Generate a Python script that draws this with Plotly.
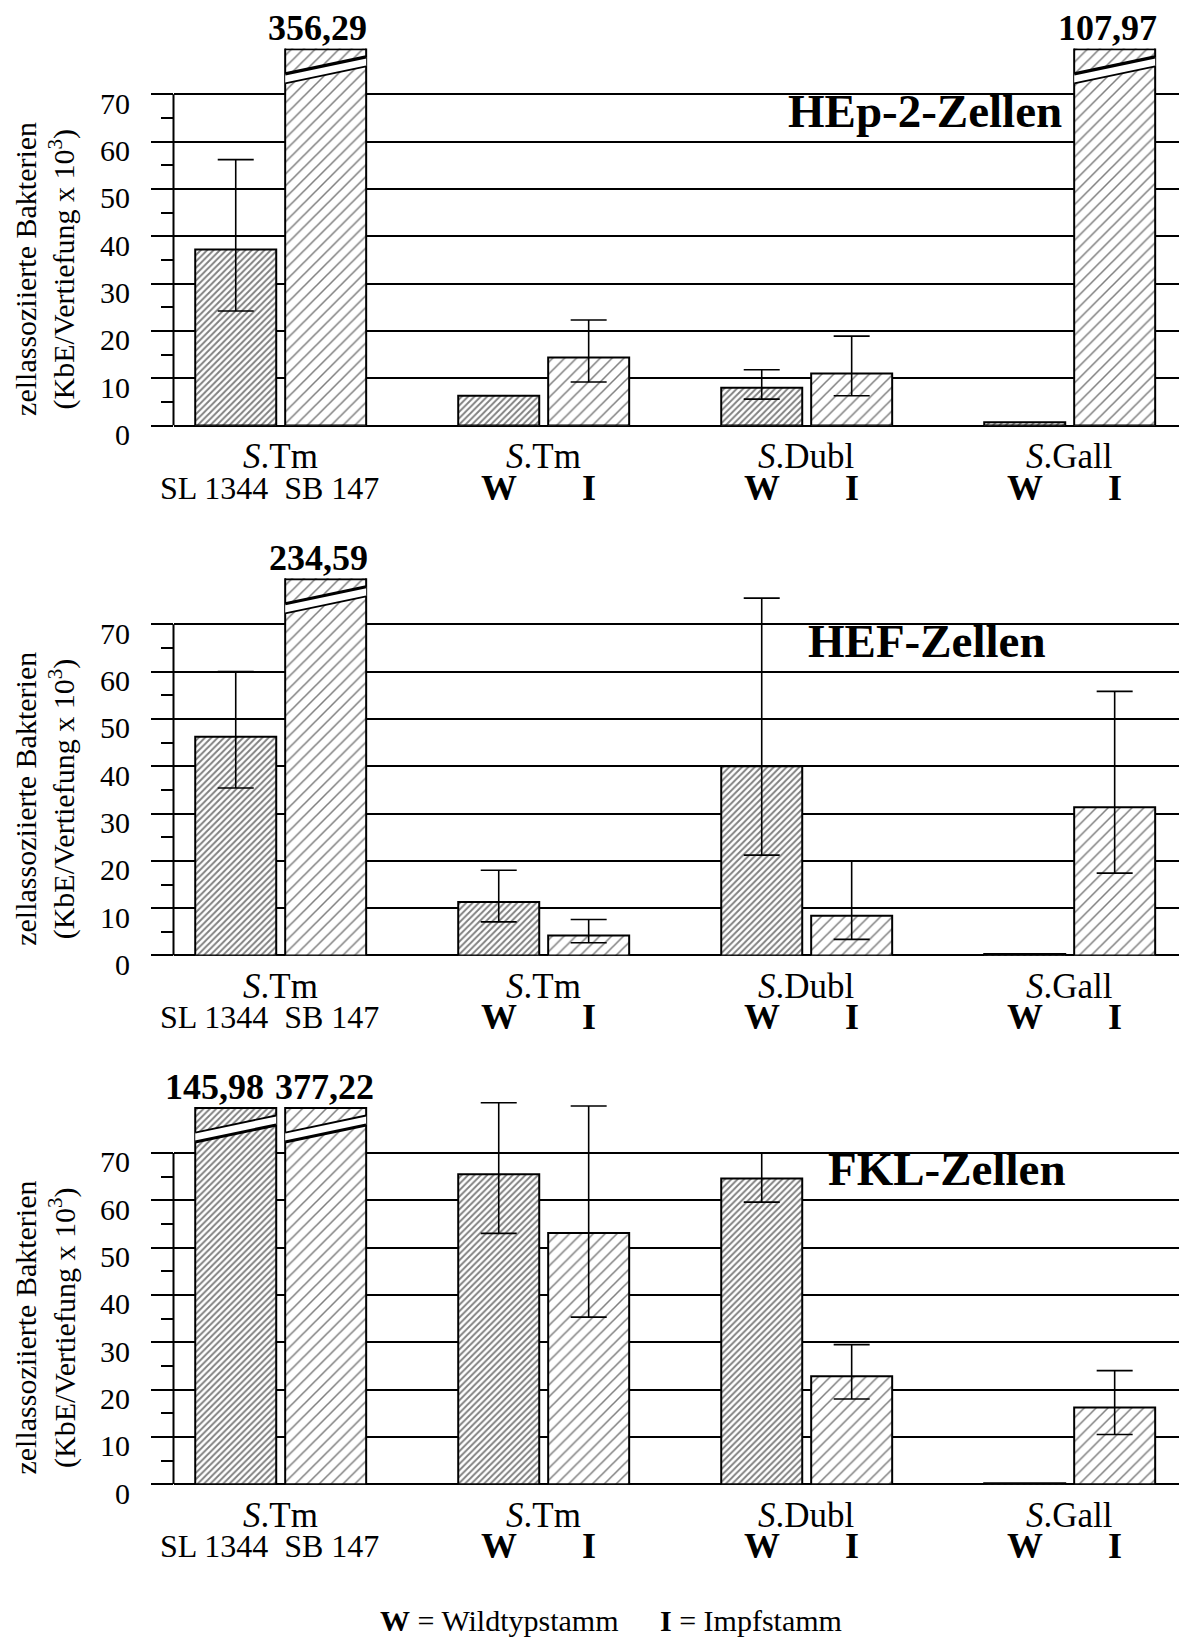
import plotly.graph_objects as go

# ---- data -------------------------------------------------------------
group_labels = ["<i>S</i>.Tm", "<i>S</i>.Tm", "<i>S</i>.Dubl", "<i>S</i>.Gall"]
strain_label = "SL 1344\u00a0\u00a0SB 147"      # first group: two reference strains
pair_labels = ["W", "I"]                        # other groups: wild type / vaccine strain
y_tick_values = [0, 10, 20, 30, 40, 50, 60, 70]
y_minor_values = [5, 15, 25, 35, 45, 55, 65]

panel_titles = ["HEp-2-Zellen", "HEF-Zellen", "FKL-Zellen"]

# mean values (KbE/Vertiefung x 10^3), W = first bar, I = second bar of each pair
hep2_w = [37.2, 6.3, 8.0, 0.7]
hep2_i = [356.29, 14.4, 11.0, 107.97]
hef_w = [46.2, 11.3, 40.0, 0.3]
hef_i = [234.59, 4.2, 8.4, 31.3]
fkl_w = [145.98, 65.5, 64.6, 0.2]
fkl_i = [377.22, 53.1, 22.8, 16.2]

# error bar ends (upper / lower), None = no error bar
hep2_w_hi = [56.2, None, 11.8, None]
hep2_w_lo = [24.2, None, 5.6, None]
hep2_i_hi = [None, 22.3, 18.9, None]
hep2_i_lo = [None, 9.2, 6.3, None]
hef_w_hi = [60.0, 18.0, 75.5, None]
hef_w_lo = [35.4, 7.1, 21.2, None]
hef_i_hi = [None, 7.6, 20.0, 55.8]
hef_i_lo = [None, 2.7, 3.4, 17.4]
fkl_w_hi = [None, 80.6, 70.0, None]
fkl_w_lo = [None, 53.0, 59.6, None]
fkl_i_hi = [None, 79.9, 29.5, 24.0]
fkl_i_lo = [None, 35.3, 18.0, 10.5]

# ---- geometry / style -------------------------------------------------
W_FIG, H_FIG = 1179, 1639
FONT = "Liberation Serif"
Y_TOP = 79.7                     # visible top of each panel (bars above are broken)
PX_PER_UNIT = 4.733
ERR_HEADROOM_PX = 14             # error bars may reach slightly above the break
X_RANGE = [-0.4076, 3.4156]
BAR_W = 0.308
GAP = 0.034
OFFSETS = [-BAR_W - GAP / 2, GAP / 2]
X_DOMAIN = [173.5 / W_FIG, 1.0]
PANEL_BOTTOM_PX = [425.6, 955.5, 1484.2]   # pixel row of y = 0 in each panel
TITLE_X = [2.450, 2.456, 2.533]
# horizontal nudges of the value labels on broken bars (px)
VALUE_SHIFT = [{(0, 1): -8, (3, 1): -7}, {(0, 1): -7}, {(0, 0): -21, (0, 1): -1}]
# widths of the two break strokes (upper, lower)
BREAK_W = [(3.3, 1.8), (3.0, 1.8), (1.8, 3.0)]

DENSE = dict(shape="/", size=4.5, solidity=0.42, fgcolor="black", bgcolor="white")
SPARSE = dict(shape="/", size=8.4, solidity=0.18, fgcolor="black", bgcolor="white")

panels = [
    (hep2_w, hep2_i, hep2_w_hi, hep2_w_lo, hep2_i_hi, hep2_i_lo),
    (hef_w, hef_i, hef_w_hi, hef_w_lo, hef_i_hi, hef_i_lo),
    (fkl_w, fkl_i, fkl_w_hi, fkl_w_lo, fkl_i_hi, fkl_i_lo),
]

fig = go.Figure()
annotations = []
shapes = []
x_pos = list(range(len(group_labels)))
n_panels = len(panels)

for p, (vw, vi, whi, wlo, ihi, ilo) in enumerate(panels):
    sfx = "" if p == 0 else str(p + 1)
    xa, ya = "x" + sfx, "y" + sfx
    # hidden twin axes for the error bars, same scale but a little taller
    esfx = str(p + 1 + n_panels)
    exa, eya = "x" + esfx, "y" + esfx

    series = [(vw, whi, wlo, DENSE), (vi, ihi, ilo, SPARSE)]
    for s, (vals, hi, lo, pat) in enumerate(series):
        fig.add_trace(go.Bar(
            x=x_pos, y=vals, width=BAR_W, offset=OFFSETS[s],
            marker=dict(color="white", line=dict(color="black", width=2), pattern=pat),
            xaxis=xa, yaxis=ya, showlegend=False, hoverinfo="skip",
        ))
        # error bars
        ex, ey, eplus, eminus = [], [], [], []
        for g, v in enumerate(vals):
            if hi[g] is None:
                continue
            ex.append(g + OFFSETS[s] + BAR_W / 2)
            ey.append(v)
            eplus.append(hi[g] - v)
            eminus.append(v - lo[g])
        if ex:
            fig.add_trace(go.Scatter(
                x=ex, y=ey, mode="markers",
                marker=dict(size=1, color="rgba(0,0,0,0)"),
                error_y=dict(type="data", symmetric=False, array=eplus, arrayminus=eminus,
                             color="black", thickness=1.6, width=18),
                cliponaxis=False, xaxis=exa, yaxis=eya, showlegend=False, hoverinfo="skip",
            ))

        # broken bars: value label, top edge and break marks
        for g, v in enumerate(vals):
            if v <= Y_TOP:
                continue
            x0 = g + OFFSETS[s]
            x1 = x0 + BAR_W
            xc = (x0 + x1) / 2
            annotations.append(dict(
                x=xc, y=Y_TOP, xref=xa, yref=ya, xanchor="center", yanchor="bottom",
                text="<b>" + f"{v:.2f}".replace(".", ",") + "</b>", showarrow=False,
                xshift=VALUE_SHIFT[p].get((g, s), 0), yshift=-2,
                font=dict(family=FONT, size=36, color="black"),
            ))
            shapes.append(dict(type="line", xref=xa, yref=ya, x0=x0, x1=x1,
                               y0=Y_TOP - 0.2, y1=Y_TOP - 0.2,
                               line=dict(color="black", width=2), layer="above"))
            up_l, up_r = Y_TOP - 5.4, Y_TOP - 1.8
            lo_l, lo_r = Y_TOP - 7.4, Y_TOP - 3.8
            shapes.append(dict(
                type="path", xref=xa, yref=ya, layer="above",
                path=f"M{x0},{lo_l} L{x1},{lo_r} L{x1},{up_r} L{x0},{up_l} Z",
                fillcolor="white", line=dict(width=0)))
            shapes.append(dict(type="line", xref=xa, yref=ya, x0=x0, x1=x1, y0=up_l, y1=up_r,
                               line=dict(color="black", width=BREAK_W[p][0]), layer="above"))
            shapes.append(dict(type="line", xref=xa, yref=ya, x0=x0, x1=x1, y0=lo_l, y1=lo_r,
                               line=dict(color="black", width=BREAK_W[p][1]), layer="above"))

    # vertical axis line, only up to the last labelled tick
    shapes.append(dict(type="line", xref="paper", yref=ya, x0=X_DOMAIN[0], x1=X_DOMAIN[0],
                       y0=0, y1=y_tick_values[-1], line=dict(color="black", width=2)))

    # category labels under each pair
    for g, lab in enumerate(group_labels):
        annotations.append(dict(
            x=g, y=0, xref=xa, yref=ya, text=lab, showarrow=False,
            xanchor="center", yanchor="middle", yshift=-31,
            font=dict(family=FONT, size=35, color="black")))
        if g == 0:
            annotations.append(dict(
                x=g, y=0, xref=xa, yref=ya, text=strain_label, showarrow=False,
                xanchor="center", yanchor="middle", yshift=-62, xshift=-11,
                font=dict(family=FONT, size=32, color="black")))
        else:
            for s, pl in enumerate(pair_labels):
                annotations.append(dict(
                    x=g + OFFSETS[s] + BAR_W / 2, y=0, xref=xa, yref=ya,
                    text=f"<b>{pl}</b>", showarrow=False,
                    xanchor="center", yanchor="middle", yshift=-62,
                    font=dict(family=FONT, size=36, color="black")))

    # panel title
    annotations.append(dict(
        x=TITLE_X[p], y=66.5, xref=xa, yref=ya, text=f"<b>{panel_titles[p]}</b>",
        showarrow=False, xanchor="center", yanchor="middle",
        font=dict(family=FONT, size=47, color="black")))

    # y-axis title (two rotated lines)
    for xpx, txt in [(25.5, "zellassoziierte Bakterien"),
                     (62.0, "(KbE/Vertiefung x 10<sup>3</sup>)")]:
        annotations.append(dict(
            x=xpx / W_FIG, y=33, xref="paper", yref=ya, text=txt, textangle=-90,
            showarrow=False, xanchor="center", yanchor="middle",
            font=dict(family=FONT, size=30, color="black")))

    bot_px = PANEL_BOTTOM_PX[p]
    top_px = bot_px - Y_TOP * PX_PER_UNIT
    y_domain = [1 - bot_px / H_FIG, 1 - top_px / H_FIG]
    fig.layout["xaxis" + sfx] = dict(
        domain=X_DOMAIN, range=X_RANGE, anchor=ya, showgrid=False, zeroline=False,
        showticklabels=False, showline=False, ticks="", fixedrange=True, automargin=False)
    fig.layout["yaxis" + sfx] = dict(
        domain=y_domain, range=[0, Y_TOP], anchor=xa, automargin=False,
        tickmode="array", tickvals=y_tick_values, ticktext=[str(v) for v in y_tick_values],
        ticks="outside", ticklen=21.6, tickwidth=1.8, tickcolor="black",
        tickfont=dict(family=FONT, size=30, color="black"),
        ticklabelshift=9, ticklabelstandoff=15,
        showgrid=True, gridcolor="black", gridwidth=1.8,
        zeroline=True, zerolinecolor="black", zerolinewidth=2,
        showline=False, fixedrange=True,
        minor=dict(tickmode="array", tickvals=y_minor_values, ticks="outside",
                   ticklen=11.6, tickwidth=1.8, tickcolor="black", showgrid=False),
    )
    # twin axes for the error bars
    e_top_px = top_px - ERR_HEADROOM_PX
    fig.layout["xaxis" + esfx] = dict(
        domain=X_DOMAIN, range=X_RANGE, anchor=eya, visible=False,
        fixedrange=True, automargin=False)
    fig.layout["yaxis" + esfx] = dict(
        domain=[1 - bot_px / H_FIG, 1 - e_top_px / H_FIG],
        range=[0, Y_TOP + ERR_HEADROOM_PX / PX_PER_UNIT], anchor=exa, visible=False,
        fixedrange=True, automargin=False)

# key for W / I, sitting on the bottom edge of the figure
for xpx, txt in [(378, "<b>W</b> = Wildtypstamm"), (658, "<b>I</b> = Impfstamm")]:
    annotations.append(dict(
        x=xpx / W_FIG, y=0, xref="paper", yref="paper", xanchor="left",
        yanchor="bottom", showarrow=False, text=txt,
        font=dict(family=FONT, size=30, color="black")))

fig.update_layout(
    width=W_FIG, height=H_FIG, margin=dict(l=0, r=0, t=0, b=0, pad=0, autoexpand=False),
    paper_bgcolor="white", plot_bgcolor="rgba(0,0,0,0)", barmode="overlay",
    showlegend=False, annotations=annotations, shapes=shapes,
    font=dict(family=FONT, color="black"),
)

fig.write_html("out.html")
